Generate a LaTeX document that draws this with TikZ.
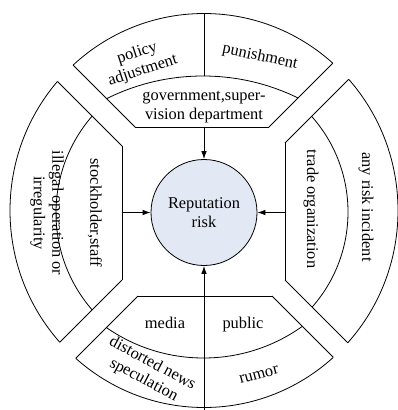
\documentclass[tikz,border=0pt]{standalone}
\usepackage{fontspec}
\setmainfont{Liberation Serif}
\usetikzlibrary{arrows.meta}
\definecolor{riskfill}{RGB}{226,233,245}
\begin{document}
\begin{tikzpicture}[x=1pt,y=-1pt,
  ln/.style={draw=black,line width=0.8pt},
  lbl/.style={font=\fontsize{16.4}{18.5}\selectfont,align=center,inner sep=0pt},
  arr/.style={ln,-{Latex[length=8pt,width=5.5pt]}}]
\useasboundingbox (0,0) rectangle (398,410);
% inner corners
\coordinate (tl) at (135,127); \coordinate (tr) at (269,127);
\coordinate (lt) at (122,146); \coordinate (lb) at (122,280);
\coordinate (rt) at (285,143); \coordinate (rb) at (285,280);
\coordinate (bl) at (138,296); \coordinate (br) at (272,296);
% outer ring
\draw[ln] (204,210.5) ellipse[x radius=194,y radius=197];
% gaps
\fill[white] (tl) -- (-165,-173) -- (-178,-154) -- (lt) -- cycle;
\fill[white] (tr) -- (569,-173) -- (585,-157) -- (rt) -- cycle;
\fill[white] (rb) -- (585,580) -- (572,596) -- (br) -- cycle;
\fill[white] (lb) -- (-178,580) -- (-162,596) -- (bl) -- cycle;
\begin{scope}
  \clip (204,210.5) ellipse[x radius=194,y radius=197];
  \draw[ln] (tl) -- (-165,-173);
  \draw[ln] (lt) -- (-178,-154);
  \draw[ln] (tr) -- (569,-173);
  \draw[ln] (rt) -- (585,-157);
  \draw[ln] (rb) -- (585,580);
  \draw[ln] (br) -- (572,596);
  \draw[ln] (lb) -- (-178,580);
  \draw[ln] (bl) -- (-162,596);
  \draw[ln] (204,76) -- (204,0);
\end{scope}
% inner lines
\draw[ln] (tl) -- (tr);
\draw[ln] (lt) -- (lb);
\draw[ln] (rt) -- (rb);
\draw[ln] (bl) -- (br);
% middle arcs
\begin{scope}
  \clip (tl) -- (-165,-173) -- (569,-173) -- (tr) -- cycle;
  \draw[ln] (203,292) circle[radius=216];
\end{scope}
\begin{scope}
  \clip (bl) -- (-162,596) -- (572,596) -- (br) -- cycle;
  \draw[ln] (203.5,188) circle[radius=170];
\end{scope}
\begin{scope}
  \clip (lt) -- (-178,-154) -- (-178,580) -- (lb) -- cycle;
  \draw[ln] (204,213) circle[radius=148];
\end{scope}
\begin{scope}
  \clip (rt) -- (585,-157) -- (585,580) -- (rb) -- cycle;
  \draw[ln] (204,212) circle[radius=144];
\end{scope}
% centre
\node[circle,ln,fill=riskfill,minimum size=106pt,lbl] (rr) at (204,212.5) {Reputation\\risk};
\coordinate (aT) at (204,127);
\coordinate (aL) at (122,212.5);
\coordinate (aR) at (285,212.5);
\coordinate (aB) at (204,410);
\draw[arr] (aT) -- (rr);
\draw[arr] (aL) -- (rr);
\draw[arr] (aR) -- (rr);
\draw[arr] (aB) -- (rr);
% labels
\node[lbl,rotate=18] (pa) at (140,62) {policy\\adjustment};
\node[lbl,rotate=-12] (pu) at (260,57) {punishment};
\node[lbl] (gov) at (204,107) {government,super-\\vision department};
\node[lbl,rotate=-90] (ss) at (95,213) {stockholder,staff};
\node[lbl,rotate=-90] (io) at (47,213) {illegal operation or\\irregularity};
\node[lbl,rotate=-90] (to) at (311,209) {trade organization};
\node[lbl,rotate=-90] (ar) at (366,207) {any risk incident};
\node[lbl,anchor=base] (me) at (165,328) {media};
\node[lbl,anchor=base] (pb) at (243,328) {public};
\node[lbl,rotate=-28] (dn) at (148,372) {distorted news\\speculation};
\node[lbl,rotate=15] (ru) at (259,375) {rumor};
\end{tikzpicture}
\end{document}
